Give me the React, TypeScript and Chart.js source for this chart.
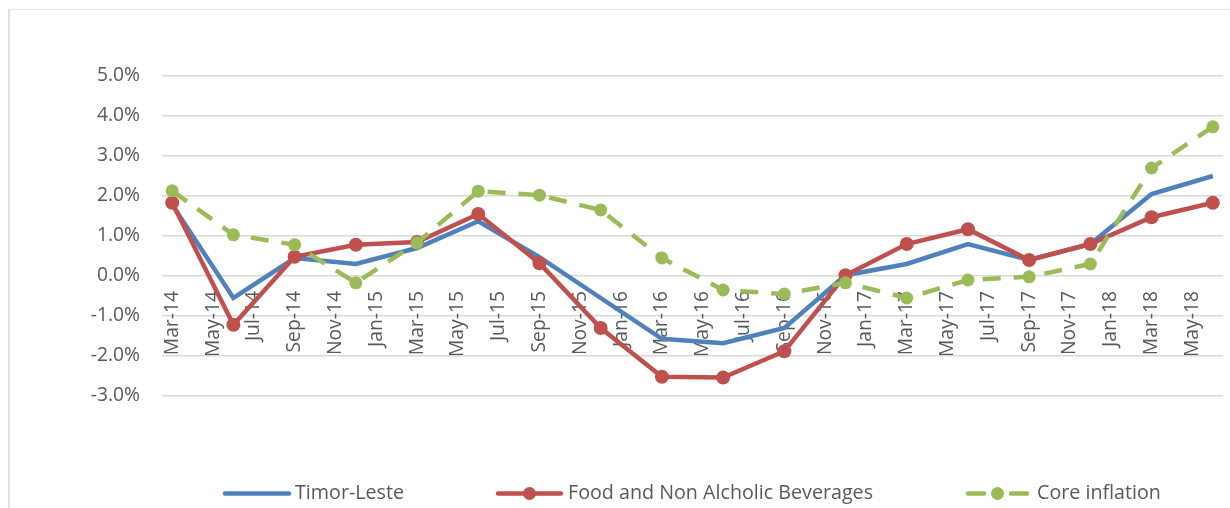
import React, { useEffect, useRef } from "react";
import { Chart, registerables } from "chart.js";

Chart.register(...registerables);

const months = [
  "Mar-14", "Apr-14", "May-14", "Jun-14", "Jul-14", "Aug-14", "Sep-14", "Oct-14", "Nov-14", "Dec-14",
  "Jan-15", "Feb-15", "Mar-15", "Apr-15", "May-15", "Jun-15", "Jul-15", "Aug-15", "Sep-15", "Oct-15", "Nov-15", "Dec-15",
  "Jan-16", "Feb-16", "Mar-16", "Apr-16", "May-16", "Jun-16", "Jul-16", "Aug-16", "Sep-16", "Oct-16", "Nov-16", "Dec-16",
  "Jan-17", "Feb-17", "Mar-17", "Apr-17", "May-17", "Jun-17", "Jul-17", "Aug-17", "Sep-17", "Oct-17", "Nov-17", "Dec-17",
  "Jan-18", "Feb-18", "Mar-18", "Apr-18", "May-18", "Jun-18",
];

const quarters = [
  "Mar-14", "Jun-14", "Sep-14", "Dec-14",
  "Mar-15", "Jun-15", "Sep-15", "Dec-15",
  "Mar-16", "Jun-16", "Sep-16", "Dec-16",
  "Mar-17", "Jun-17", "Sep-17", "Dec-17",
  "Mar-18", "Jun-18",
];

const timorLeste = [1.78, -0.55, 0.45, 0.3, 0.7, 1.37, 0.47, -0.55, -1.57, -1.68, -1.3, 0.02, 0.3, 0.8, 0.4, 0.8, 2.05, 2.5];
const foodBeverages = [1.83, -1.22, 0.48, 0.78, 0.85, 1.55, 0.32, -1.3, -2.52, -2.54, -1.88, 0.02, 0.8, 1.17, 0.4, 0.8, 1.47, 1.83];
const coreInflation = [2.13, 1.03, 0.78, -0.17, 0.83, 2.12, 2.02, 1.65, 0.45, -0.35, -0.45, -0.17, -0.55, -0.1, -0.02, 0.3, 2.7, 3.73];

const seriesNames = ["Timor-Leste", "Food and Non Alcholic Beverages", "Core inflation"];
const BLUE = "#4f81bd";
const RED = "#c0504d";
const GREEN = "#9bbb59";
const TEXT = "#595959";
const FONT_FAMILY = '"Open Sans", sans-serif';

function toMonthly(values: number[]) {
  return months.map((m) => {
    const i = quarters.indexOf(m);
    return i >= 0 ? values[i] : null;
  });
}

const legendPlugin = {
  id: "customLegend",
  afterDraw(chart: any) {
    const ctx = chart.ctx;
    const y = 493.5;
    ctx.save();
    ctx.lineWidth = 4.5;
    ctx.lineCap = "round";
    ctx.strokeStyle = BLUE;
    ctx.beginPath();
    ctx.moveTo(225, y);
    ctx.lineTo(289, y);
    ctx.stroke();
    ctx.strokeStyle = RED;
    ctx.beginPath();
    ctx.moveTo(498, y);
    ctx.lineTo(561, y);
    ctx.stroke();
    ctx.fillStyle = RED;
    ctx.beginPath();
    ctx.arc(529.5, y, 6.5, 0, Math.PI * 2);
    ctx.fill();
    ctx.strokeStyle = GREEN;
    ctx.beginPath();
    ctx.moveTo(968, y);
    ctx.lineTo(984, y);
    ctx.moveTo(1011, y);
    ctx.lineTo(1027, y);
    ctx.stroke();
    ctx.fillStyle = GREEN;
    ctx.beginPath();
    ctx.arc(997.5, y, 6.5, 0, Math.PI * 2);
    ctx.fill();
    ctx.fillStyle = TEXT;
    ctx.font = `19.7px ${FONT_FAMILY}`;
    ctx.textBaseline = "middle";
    ctx.textAlign = "left";
    ctx.fillText(seriesNames[0], 295, y);
    ctx.fillText(seriesNames[1], 568, y);
    ctx.fillText(seriesNames[2], 1037, y);
    ctx.restore();
  },
};

export default function App() {
  const canvasRef = useRef<HTMLCanvasElement | null>(null);

  useEffect(() => {
    if (!canvasRef.current) return;
    const chart = new Chart(canvasRef.current, {
      type: "line",
      data: {
        labels: months,
        datasets: [
          {
            label: seriesNames[0],
            data: toMonthly(timorLeste),
            borderColor: BLUE,
            backgroundColor: BLUE,
            borderWidth: 4.5,
            pointRadius: 0,
            spanGaps: true,
            tension: 0,
            order: 3,
          },
          {
            label: seriesNames[1],
            data: toMonthly(foodBeverages),
            borderColor: RED,
            backgroundColor: RED,
            borderWidth: 4.5,
            pointRadius: 7,
            pointBorderWidth: 0,
            pointBackgroundColor: RED,
            spanGaps: true,
            tension: 0,
            order: 2,
          },
          {
            label: seriesNames[2],
            data: toMonthly(coreInflation),
            borderColor: GREEN,
            backgroundColor: GREEN,
            borderWidth: 4.5,
            borderDash: [18, 13],
            pointRadius: 6.5,
            pointBorderWidth: 0,
            pointBackgroundColor: GREEN,
            spanGaps: true,
            tension: 0,
            order: 1,
          },
        ],
      },
      options: {
        animation: false,
        responsive: true,
        maintainAspectRatio: false,
        layout: { padding: { top: 76, bottom: 112, left: 0, right: 4 } },
        plugins: {
          legend: { display: false },
          tooltip: { enabled: false },
        },
        scales: {
          x: {
            type: "category",
            position: { y: 0 } as any,
            offset: true,
            afterFit: (scale: any) => {
              scale.paddingLeft = 0;
              scale.paddingRight = 0;
              scale.paddingTop = 0;
              scale.paddingBottom = 0;
            },
            grid: { display: false, drawTicks: false },
            border: { display: false },
            ticks: {
              autoSkip: false,
              maxRotation: 90,
              minRotation: 90,
              padding: 15,
              color: TEXT,
              font: { family: FONT_FAMILY, size: 19.3 },
              callback: (_v: any, i: number) => (i % 2 === 0 ? months[i] : ""),
            },
          },
          y: {
            min: -3,
            max: 5,
            afterFit: (scale: any) => {
              scale.width = 162;
              scale.paddingTop = 0;
              scale.paddingBottom = 0;
            },
            grid: { color: "#d9d9d9", lineWidth: 1.6, drawTicks: false },
            border: { display: false },
            ticks: {
              stepSize: 1,
              padding: 22,
              color: TEXT,
              font: { family: FONT_FAMILY, size: 19.3 },
              callback: (v: any) => Number(v).toFixed(1) + "%",
            },
          },
        },
      },
      plugins: [legendPlugin],
    });
    return () => chart.destroy();
  }, []);

  return (
    <div style={{ position: "fixed", left: 0, top: 0, width: 1230, height: 508, background: "#fff" }}>
      <div
        style={{
          position: "absolute",
          left: 8,
          top: 9,
          width: 1230,
          height: 508,
          borderLeft: "2px solid #d9e1ec",
          borderTop: "1px solid #e6ebf2",
        }}
      />
      <canvas ref={canvasRef} style={{ position: "absolute", left: 0, top: 0 }} />
    </div>
  );
}
